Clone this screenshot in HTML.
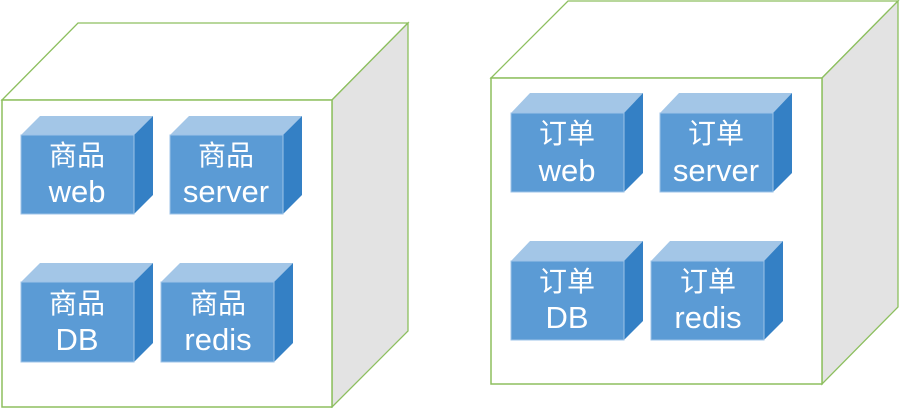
<!DOCTYPE html>
<html><head><meta charset="utf-8"><style>
html,body{margin:0;padding:0;background:#fff;width:900px;height:408px;overflow:hidden}
</style></head><body>
<svg width="900" height="408" viewBox="0 0 900 408" xmlns="http://www.w3.org/2000/svg" font-family="'Liberation Sans','Noto Sans CJK SC',sans-serif" fill="#fff">
<defs>
<g id="none"></g>
</defs>
<!-- left cube -->
<polygon points="2,100 78,23 408,23 332,100" fill="#fff" stroke="#8dbf5f" stroke-width="1.3"/>
<polygon points="332,100 408,23 408,331 332,407" fill="#e3e3e3" stroke="#8dbf5f" stroke-width="1.3"/>
<rect x="2" y="100" width="330" height="307" fill="#fff" stroke="#8dbf5f" stroke-width="1.5"/>
<!-- right cube -->
<polygon points="491,78 568,1 898,1 822,78" fill="#fff" stroke="#8dbf5f" stroke-width="1.3"/>
<polygon points="822,78 898,1 898,307 822,384" fill="#e3e3e3" stroke="#8dbf5f" stroke-width="1.3"/>
<rect x="491" y="78" width="331" height="306" fill="#fff" stroke="#8dbf5f" stroke-width="1.5"/>

<g font-size="28" text-anchor="middle">
<!-- box helper: front x,y,w=113,h=79/80, depth 19 -->
<!-- 商品 web -->
<polygon points="21,135 40,116 153,116 134,135" fill="#a3c6e7"/>
<polygon points="134,135 153,116 153,195 134,214" fill="#3480c5"/>
<rect x="21" y="135" width="113" height="79" fill="#5b9bd5" stroke="#9cc3e8" stroke-width="1"/>
<text x="77" y="165">商品</text><text x="77" y="202" font-size="31">web</text>
<!-- 商品 server -->
<polygon points="170,135 189,116 302,116 283,135" fill="#a3c6e7"/>
<polygon points="283,135 302,116 302,195 283,214" fill="#3480c5"/>
<rect x="170" y="135" width="113" height="79" fill="#5b9bd5" stroke="#9cc3e8" stroke-width="1"/>
<text x="226" y="165">商品</text><text x="226" y="202" font-size="31">server</text>
<!-- 商品 DB -->
<polygon points="21,282 40,263 153,263 134,282" fill="#a3c6e7"/>
<polygon points="134,282 153,263 153,343 134,362" fill="#3480c5"/>
<rect x="21" y="282" width="113" height="80" fill="#5b9bd5" stroke="#9cc3e8" stroke-width="1"/>
<text x="77" y="313">商品</text><text x="77" y="350" font-size="31">DB</text>
<!-- 商品 redis -->
<polygon points="161,282 180,263 293,263 274,282" fill="#a3c6e7"/>
<polygon points="274,282 293,263 293,343 274,362" fill="#3480c5"/>
<rect x="161" y="282" width="113" height="80" fill="#5b9bd5" stroke="#9cc3e8" stroke-width="1"/>
<text x="218" y="313">商品</text><text x="218" y="350" font-size="31">redis</text>

<!-- 订单 web -->
<polygon points="511,113 530,93 643,93 624,113" fill="#a3c6e7"/>
<polygon points="624,113 643,93 643,173 624,192" fill="#3480c5"/>
<rect x="511" y="113" width="113" height="79" fill="#5b9bd5" stroke="#9cc3e8" stroke-width="1"/>
<text x="567" y="143">订单</text><text x="567" y="181" font-size="31">web</text>
<!-- 订单 server -->
<polygon points="660,113 679,93 792,93 773,113" fill="#a3c6e7"/>
<polygon points="773,113 792,93 792,173 773,192" fill="#3480c5"/>
<rect x="660" y="113" width="113" height="79" fill="#5b9bd5" stroke="#9cc3e8" stroke-width="1"/>
<text x="716" y="143">订单</text><text x="716" y="181" font-size="31">server</text>
<!-- 订单 DB -->
<polygon points="511,261 530,241 643,241 624,261" fill="#a3c6e7"/>
<polygon points="624,261 643,241 643,321 624,340" fill="#3480c5"/>
<rect x="511" y="261" width="113" height="79" fill="#5b9bd5" stroke="#9cc3e8" stroke-width="1"/>
<text x="567" y="291">订单</text><text x="567" y="328" font-size="31">DB</text>
<!-- 订单 redis -->
<polygon points="651,261 670,241 783,241 764,261" fill="#a3c6e7"/>
<polygon points="764,261 783,241 783,321 764,340" fill="#3480c5"/>
<rect x="651" y="261" width="113" height="79" fill="#5b9bd5" stroke="#9cc3e8" stroke-width="1"/>
<text x="708" y="291">订单</text><text x="708" y="328" font-size="31">redis</text>
</g>
</svg>
</body></html>
